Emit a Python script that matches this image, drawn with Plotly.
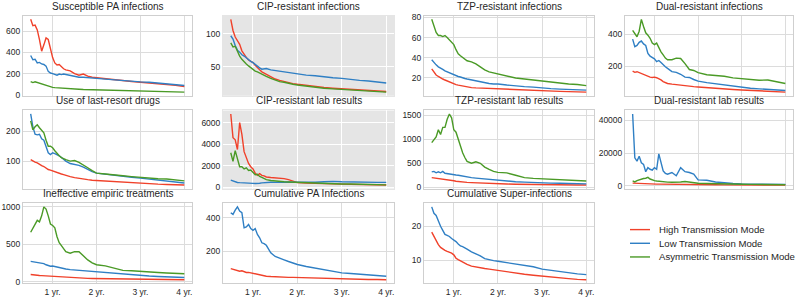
import plotly.graph_objects as go

# ---------------- data ----------------
years = [0.5, 0.55, 0.6, 0.65, 0.7, 0.75, 0.8, 0.85, 0.9, 0.95, 1.0, 1.05, 1.1, 1.15, 1.2, 1.25, 1.3,
         1.4, 1.5, 1.6, 1.7, 1.8, 1.9, 2.0, 2.2, 2.4, 2.6, 2.8, 3.0, 3.2, 3.4, 3.6, 3.8, 4.0]

series_names = ["High Transmission Mode", "Low Transmission Mode", "Asymmetric Transmission Mode"]
series_colors = ["#f0412a", "#2f7fc4", "#4a9a26"]

x_tick_vals = [1, 2, 3, 4]
x_tick_text = ["1 yr.", "2 yr.", "3 yr.", "4 yr."]

panel_titles = ["Susceptible PA infections", "CIP-resistant infections", "TZP-resistant infections",
                "Dual-resistant infections", "Use of last-resort drugs", "CIP-resistant lab results",
                "TZP-resistant lab results", "Dual-resistant lab results", "Ineffective empiric treatments",
                "Cumulative PA Infections", "Cumulative Super-infections"]

sus_high = [710, 650, 655, 610, 520, 410, 470, 535, 520, 420, 350, 300, 280, 285, 260, 245, 235,
            225, 200, 185, 195, 175, 165, 160, 150, 140, 135, 125, 118, 112, 108, 100, 90, 78]
sus_low = [370, 330, 335, 300, 305, 290, 285, 270, 220, 205, 200, 195, 185, 195, 190, 195, 190,
           185, 175, 165, 165, 160, 158, 155, 148, 140, 135, 128, 122, 118, 112, 105, 95, 88]
sus_asym = [125, 115, 122, 115, 108, 100, 92, 85, 80, 75, 70, 68, 66, 65, 63, 61, 60,
            57, 55, 52, 50, 49, 48, 47, 45, 43, 40, 38, 35, 33, 31, 29, 27, 25]

cip_high = [122, 105, 95, 90, 84, 74, 68, 64, 60, 58, 56, 52, 48, 45, 42, 40, 38,
            34, 31, 29, 27, 26, 24, 23, 21, 19, 18, 17, 16, 15, 14, 13.5, 12.5, 12]
cip_low = [97, 92, 82, 75, 72, 68, 66, 63, 61, 58, 56, 53, 50, 48, 46, 47, 47,
           45, 44, 42, 41, 40, 39, 39, 37, 36, 34, 33, 32, 30, 29, 28, 26, 25]
cip_asym = [86, 80, 81, 72, 66, 61, 57, 54, 51, 48, 46, 43, 42, 40, 38, 36, 35,
            32, 29, 27, 26, 24, 23, 22, 20, 18, 17, 16, 15, 14, 13.5, 13, 12, 11]

tzp_high = [29, 26, 23, 21.5, 20, 19, 18, 17, 16, 15, 14, 13.5, 13, 12.5, 12, 11.5, 11,
            10.5, 10.2, 10, 9.7, 9.5, 9.3, 9, 8.5, 8.2, 8, 7.7, 7.3, 7, 6.8, 6.5, 6.2, 6]
tzp_low = [38, 35, 33, 31, 30, 28.5, 27, 26, 25, 24, 23, 22, 21.5, 21, 20, 19.5, 19,
           18, 17, 16, 15, 14.5, 14, 14, 13, 12, 11.5, 11, 10, 9.5, 9, 8.7, 8.3, 8]
tzp_asym = [78, 71, 65, 62, 62, 61, 62, 60, 58, 56, 53, 48, 44, 42, 40, 38, 37,
            36, 34, 31, 28, 26, 25, 24, 22.5, 20, 19, 18, 16.5, 15.5, 15, 14, 13.5, 12.5]

dual_high = [168, 160, 164, 158, 152, 148, 142, 135, 130, 128, 130, 126, 120, 112, 102, 95, 90,
             86, 82, 78, 75, 72, 70, 68, 63, 59, 55, 52, 49, 46, 43, 40, 37, 35]
dual_low = [370, 322, 330, 350, 358, 340, 330, 280, 262, 255, 245, 228, 235, 222, 205, 195, 185,
            165, 160, 148, 130, 128, 115, 105, 95, 88, 80, 72, 66, 60, 56, 52, 48, 45]
dual_asym = [425, 405, 385, 420, 495, 450, 410, 395, 375, 345, 335, 345, 315, 290, 270, 250, 240,
             240, 250, 248, 215, 178, 172, 158, 145, 140, 135, 125, 120, 115, 110, 112, 100, 90]

lr_high = [105, 100, 97, 94, 88, 85, 82, 76, 72, 70, 67, 65, 62, 60, 57, 55, 52,
           48, 45, 42, 40, 38, 36, 35, 33, 31, 29, 27, 26, 25, 23, 22, 21, 20]
lr_low = [258, 215, 190, 188, 190, 175, 170, 150, 128, 122, 128, 125, 122, 118, 112, 105, 100,
          92, 90, 86, 80, 72, 65, 60, 56, 52, 49, 46, 43, 40, 36, 33, 30, 27]
lr_asym = [235, 205, 215, 222, 212, 205, 195, 170, 150, 150, 145, 135, 125, 118, 112, 108, 105,
           100, 102, 96, 88, 78, 68, 60, 57, 55, 51, 48, 45, 43, 41, 40, 37, 34]

ciplab_high = [6800, 4600, 4400, 3500, 6000, 4900, 3300, 2700, 2200, 1900, 1700, 1300, 1100, 1250, 1100, 1050, 950,
               900, 880, 850, 800, 700, 550, 420, 380, 340, 310, 290, 280, 260, 250, 240, 220, 200]
ciplab_low = [650, 560, 470, 440, 420, 420, 410, 390, 380, 360, 350, 340, 330, 370, 400, 430, 450,
              460, 450, 480, 500, 480, 460, 450, 440, 460, 500, 540, 500, 470, 460, 450, 450, 450]
ciplab_asym = [3200, 2400, 3400, 2500, 1900, 1900, 1700, 1800, 1550, 1600, 1350, 1150, 1200, 1000, 900, 800, 700,
               620, 560, 520, 500, 480, 460, 440, 400, 370, 340, 320, 300, 290, 270, 250, 230, 210]

tzplab_high = [200, 195, 190, 180, 172, 168, 165, 160, 152, 145, 135, 125, 118, 112, 106, 102, 100,
               95, 90, 85, 82, 78, 75, 72, 66, 62, 58, 56, 54, 52, 50, 48, 46, 45]
tzplab_low = [320, 330, 300, 320, 300, 330, 290, 280, 270, 265, 260, 255, 250, 240, 230, 220, 215,
              200, 190, 180, 170, 160, 155, 150, 130, 115, 105, 95, 90, 85, 82, 78, 74, 70]
tzplab_asym = [930, 980, 1050, 1200, 1100, 1250, 1250, 1420, 1530, 1450, 1200, 1150, 1000, 850, 720, 620, 540,
               500, 530, 500, 420, 370, 330, 310, 300, 250, 200, 185, 175, 168, 160, 150, 140, 130]

duallab_high = [1500, 1400, 1350, 1300, 1250, 1200, 1150, 1100, 1000, 950, 900, 870, 850, 820, 800, 780, 760,
                720, 680, 640, 600, 560, 530, 500, 470, 440, 420, 400, 390, 370, 350, 330, 310, 300]
duallab_low = [44000, 17000, 15000, 18000, 14000, 13000, 8500, 11000, 10000, 9500, 11000, 10000, 19500, 14000, 9000, 7500, 7000,
               8000, 6000, 11000, 8500, 8000, 7000, 3500, 3200, 2200, 1500, 1200, 1000, 900, 850, 800, 750, 700]
duallab_asym = [2800, 2200, 3000, 3500, 4000, 4300, 4500, 5000, 4000, 3300, 3000, 2800, 2600, 2400, 2300, 2200, 2100,
                2000, 2000, 2200, 2500, 2000, 1600, 1400, 1200, 1000, 900, 800, 750, 700, 650, 600, 550, 500]

ineff_high = [95, 90, 86, 84, 82, 80, 78, 75, 72, 70, 68, 65, 62, 60, 58, 55, 53,
              50, 47, 45, 43, 42, 41, 40, 38, 36, 34, 32, 30, 29, 28, 27, 26, 25]
ineff_low = [270, 265, 262, 258, 255, 250, 240, 225, 210, 205, 208, 200, 195, 188, 180, 175, 168,
             160, 155, 150, 145, 138, 130, 125, 115, 105, 95, 88, 80, 74, 68, 64, 60, 55]
ineff_asym = [660, 720, 780, 820, 800, 880, 1000, 970, 880, 770, 750, 720, 600, 520, 480, 440, 400,
              380, 400, 400, 340, 290, 250, 225, 210, 180, 150, 145, 140, 130, 122, 115, 110, 105]

cumpa_high = [95, 92, 88, 82, 80, 82, 75, 72, 73, 70, 70, 68, 64, 60, 56, 53, 50,
              48, 46, 45, 44, 43, 43, 42, 41, 40, 38, 35, 33, 32, 31, 30, 30, 29]
cumpa_low = [430, 420, 445, 465, 440, 430, 340, 345, 360, 335, 325, 335, 300, 280, 250, 245, 235,
             190, 168, 160, 148, 138, 128, 120, 108, 98, 90, 80, 70, 66, 62, 58, 55, 50]

cumsup_high = [18.3, 17, 15.8, 14.6, 13.8, 13.3, 12.9, 12.6, 12.4, 12.1, 11.6, 10.6, 10.2, 9.8, 9.5, 9.1, 8.8,
               8.3, 8, 7.8, 7.6, 7.4, 7.2, 7, 6.6, 6.2, 5.9, 5.6, 5.3, 5.0, 4.8, 4.6, 4.4, 4.3]
cumsup_low = [25.7, 23.8, 23.2, 21.5, 20, 18.8, 17.6, 17.3, 17, 16.4, 16, 15.5, 14.8, 14.2, 14, 13.7, 13.3,
              12.5, 12, 11.3, 10.5, 10.1, 9.9, 9.7, 9.3, 8.9, 8.5, 8.1, 7.4, 7, 6.7, 6.3, 6, 5.8]

panels = [
    [sus_high, sus_low, sus_asym],
    [cip_high, cip_low, cip_asym],
    [tzp_high, tzp_low, tzp_asym],
    [dual_high, dual_low, dual_asym],
    [lr_high, lr_low, lr_asym],
    [ciplab_high, ciplab_low, ciplab_asym],
    [tzplab_high, tzplab_low, tzplab_asym],
    [duallab_high, duallab_low, duallab_asym],
    [ineff_high, ineff_low, ineff_asym],
    [cumpa_high, cumpa_low],
    [cumsup_high, cumsup_low],
]
y_ticks = [[0, 200, 400, 600], [50, 100], [20, 40, 60, 80], [200, 400], [100, 200],
           [0, 2000, 4000, 6000], [0, 500, 1000, 1500], [0, 20000, 40000], [0, 500, 1000],
           [200, 400], [10, 20]]
grey_panels = [1, 5]

# ---------------- layout ----------------
W, H = 800, 301
col_px = [(23, 192), (223, 394), (424, 594), (625, 793)]
row_px = [(13, 95), (110, 190), (205, 287)]
FONT = "Liberation Sans, Arial, sans-serif"
TXT = "#262626"

fig = go.Figure()
layout = dict(width=W, height=H, margin=dict(l=0, r=0, t=0, b=0),
              paper_bgcolor="white", plot_bgcolor="white", showlegend=False,
              font=dict(family=FONT, color=TXT))
annotations = []
shapes = []

xmin, xmax = min(years), max(years)
xpad = (xmax - xmin) * 0.05

for i, series in enumerate(panels):
    r, c = divmod(i, 4)
    n = i + 1
    xa = "xaxis" if n == 1 else f"xaxis{n}"
    ya = "yaxis" if n == 1 else f"yaxis{n}"
    xr = "x" if n == 1 else f"x{n}"
    yr = "y" if n == 1 else f"y{n}"
    for k, vals in enumerate(series):
        fig.add_trace(go.Scatter(x=years, y=vals, mode="lines", name=series_names[k],
                                 line=dict(color=series_colors[k], width=1.4),
                                 xaxis=xr, yaxis=yr, showlegend=False))
    allv = [v for s in series for v in s]
    lo, hi = min(allv), max(allv)
    pad = (hi - lo) * 0.05
    grey = i in grey_panels
    gridc = "white" if grey else "#dcdcdc"
    linec = "#e5e5e5" if grey else "#cfcfcf"
    x0, x1 = col_px[c]
    t0, t1 = row_px[r]
    layout[xa] = dict(domain=[x0 / W, x1 / W], range=[xmin - xpad, xmax + xpad],
                      anchor=yr, tickvals=x_tick_vals, ticktext=x_tick_text,
                      showticklabels=(r == 2), showgrid=True, gridcolor=gridc, gridwidth=1,
                      zeroline=False, showline=True, mirror=True, linecolor=linec, linewidth=1,
                      ticks="", tickfont=dict(size=8.5, color=TXT, family=FONT))
    layout[ya] = dict(domain=[1 - t1 / H, 1 - t0 / H], range=[lo - pad, hi + pad],
                      anchor=xr, tickvals=y_ticks[i], tickformat="d",
                      showgrid=True, gridcolor=gridc, gridwidth=1,
                      zeroline=False, showline=True, mirror=True, linecolor=linec, linewidth=1,
                      ticks="", tickfont=dict(size=8.5, color=TXT, family=FONT))
    if grey:
        shapes.append(dict(type="rect", xref=f"{xr} domain", yref=f"{yr} domain",
                           x0=0, x1=1, y0=0, y1=1, fillcolor="#e5e5e5",
                           line=dict(width=0), layer="below"))
    annotations.append(dict(text=panel_titles[i], xref="paper", yref="paper",
                            x=(x0 + x1) / 2 / W, y=1 - (t0 - 2) / H,
                            xanchor="center", yanchor="bottom", showarrow=False,
                            font=dict(size=10, color=TXT, family=FONT)))

# legend (manual, in the empty 12th cell)
leg_y = [232, 246, 260]
for k, name in enumerate(series_names):
    shapes.append(dict(type="line", xref="paper", yref="paper",
                       x0=630 / W, x1=650 / W, y0=1 - leg_y[k] / H, y1=1 - leg_y[k] / H,
                       line=dict(color=series_colors[k], width=1.4)))
    annotations.append(dict(text=name, xref="paper", yref="paper", x=657 / W, y=1 - leg_y[k] / H,
                            xanchor="left", yanchor="middle", showarrow=False,
                            font=dict(size=9.6, color=TXT, family=FONT)))

layout["annotations"] = annotations
layout["shapes"] = shapes
fig.update_layout(**layout)
fig.write_html("out.html")
